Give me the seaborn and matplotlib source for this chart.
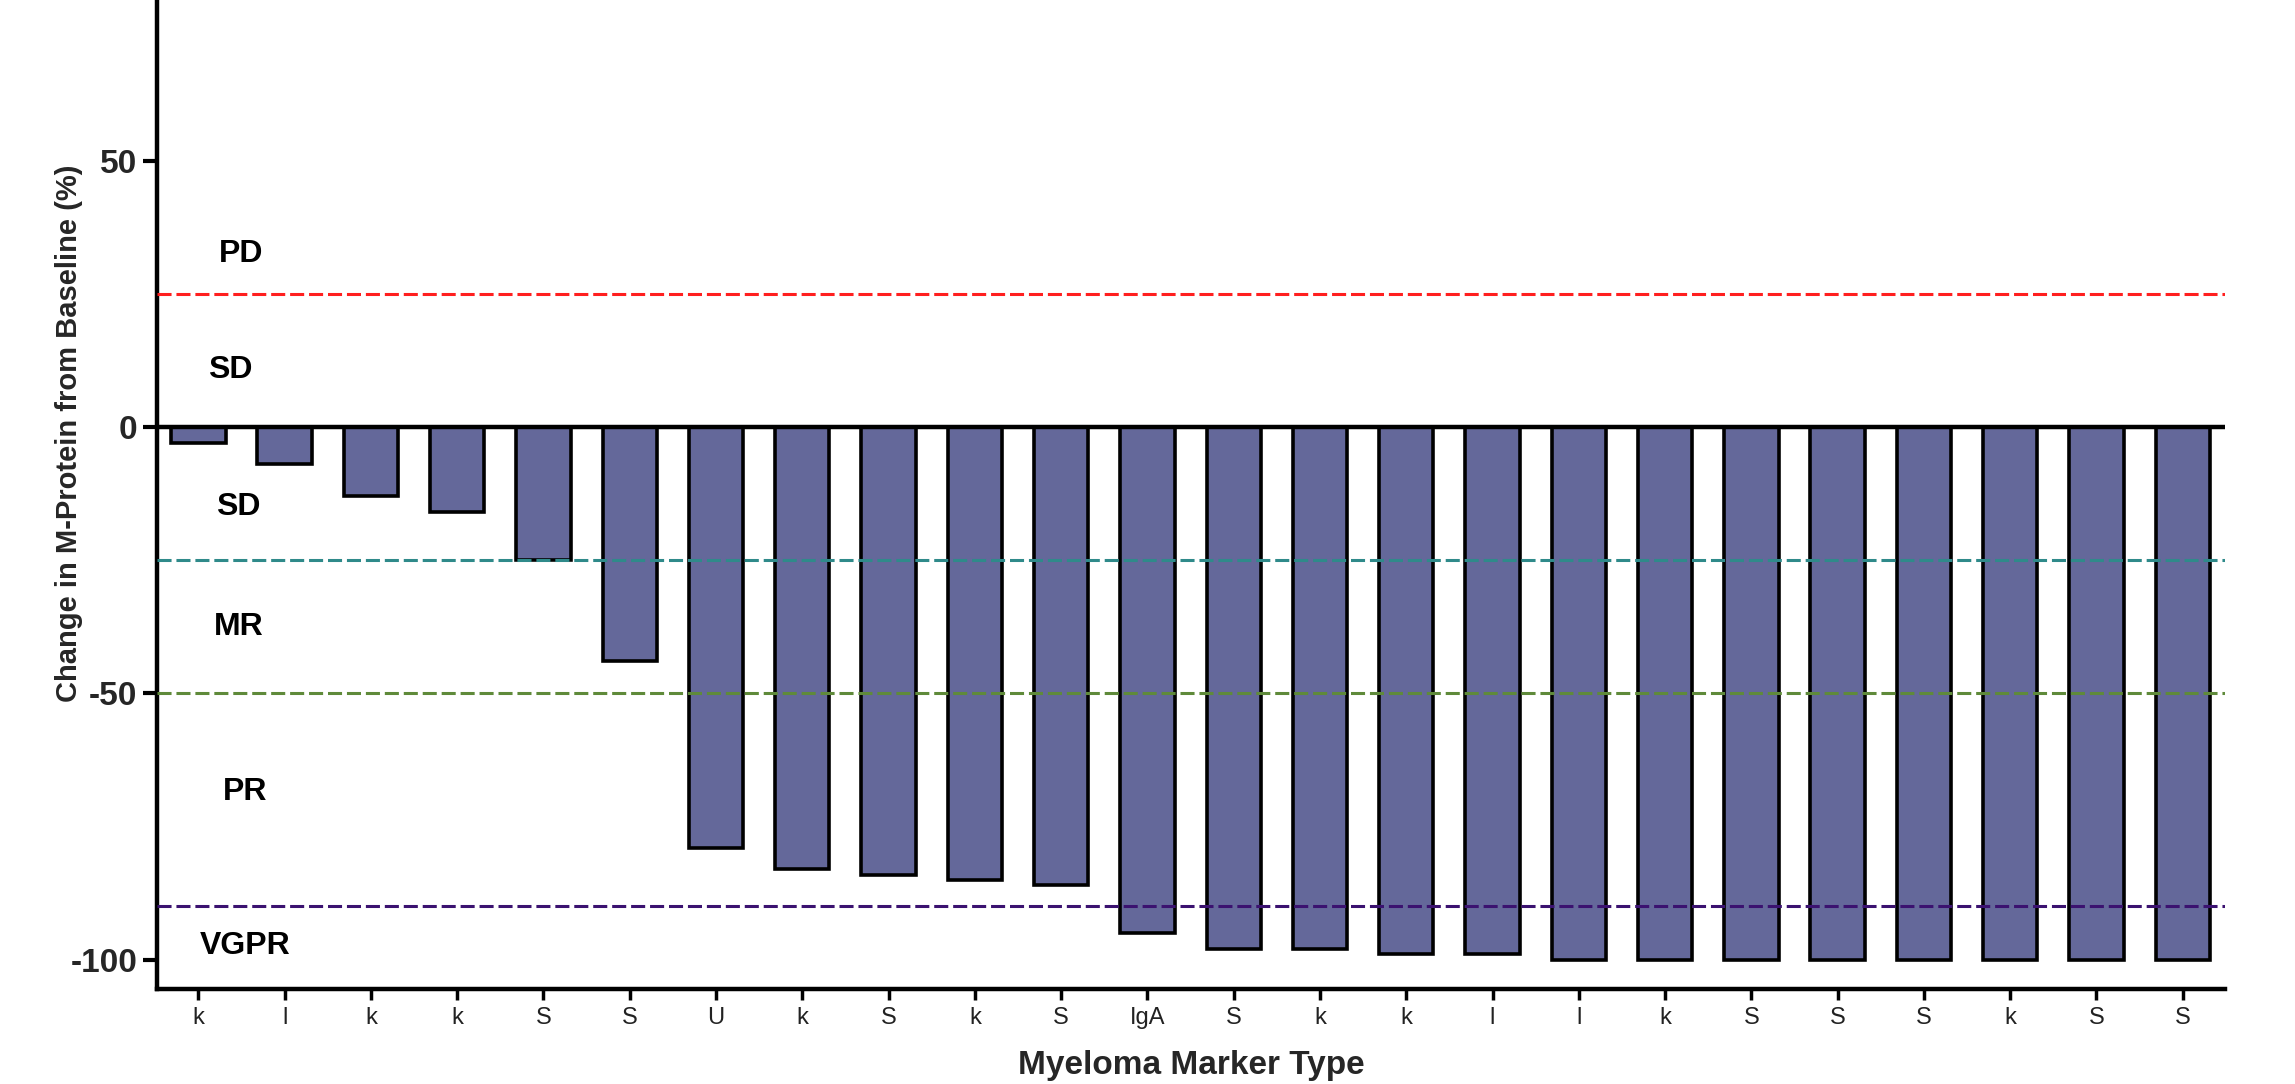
import matplotlib
matplotlib.use("Agg")
import matplotlib.pyplot as plt
import seaborn as sns
import numpy as np
import pandas as pd

# ---- data ----
marker_types = ["k", "l", "k", "k", "S", "S", "U", "k", "S", "k", "S", "IgA",
                "S", "k", "k", "l", "l", "k", "S", "S", "S", "k", "S", "S"]
change_pct = [-3, -7, -13, -16, -25, -44, -79, -83, -84, -85, -86, -95,
              -98, -98, -99, -99, -100, -100, -100, -100, -100, -100, -100, -100]
threshold_values = [25, -25, -50, -90]
threshold_colors = ["#ff1f1f", "#2f8a8a", "#5f8a3a", "#3b1270"]
region_labels = ["PD", "SD", "SD", "MR", "PR", "VGPR"]
region_label_y = [32.5, 10.7, -15, -37.5, -68.5, -97.5]
region_label_x = [0.50, 0.37, 0.46, 0.47, 0.54, 0.54]
yticks = [50, 0, -50, -100]

df = pd.DataFrame({"patient": np.arange(len(change_pct)), "change": change_pct})

sns.set_style("white")
plt.rcParams["font.family"] = ["Liberation Sans", "DejaVu Sans"]

fig = plt.figure(figsize=(22.95, 10.84), dpi=100)
ax = fig.add_axes([0.0684, 0.0876, 0.9011, 0.9124])

sns.barplot(data=df, x="patient", y="change", color="#64689a", saturation=1,
            width=0.63, edgecolor="black", linewidth=2.6, ax=ax, zorder=2)

for v, c in zip(threshold_values, threshold_colors):
    ax.axhline(v, color=c, lw=2.2, linestyle=(0, (4.6, 1.6)), zorder=3)

ax.axhline(0, color="black", lw=3.2, zorder=4)

for lab, x, y in zip(region_labels, region_label_x, region_label_y):
    ax.text(x, y, lab, ha="center", va="center", fontsize=23, fontweight="bold",
            color="black", zorder=5)

ax.set_xlim(-0.48, 23.49)
ax.set_ylim(-105.5, 80.2)
ax.set_yticks(yticks)
ax.set_yticklabels([str(t) for t in yticks], fontsize=24, fontweight="bold")
ax.set_xticks(np.arange(len(marker_types)))
ax.set_xticklabels(marker_types, fontsize=17, color="#222222")

ax.tick_params(axis="y", direction="out", length=10, width=3, color="black", pad=4, left=True)
ax.tick_params(axis="x", direction="out", length=8, width=2.5, color="black", pad=5, bottom=True)

for side in ["top", "right"]:
    ax.spines[side].set_visible(False)
ax.spines["left"].set_linewidth(3.2)
ax.spines["bottom"].set_linewidth(3.2)
ax.spines["left"].set_color("black")
ax.spines["bottom"].set_color("black")

ax.set_xlabel("Myeloma Marker Type", fontsize=24, fontweight="bold")
ax.xaxis.set_label_coords(0.5, -0.062)
ax.set_ylabel("Change in M-Protein from Baseline (%)", fontsize=21, fontweight="bold")
ax.yaxis.set_label_coords(-0.036, 0.562)

fig.savefig("out.png", dpi=100, facecolor="white")
